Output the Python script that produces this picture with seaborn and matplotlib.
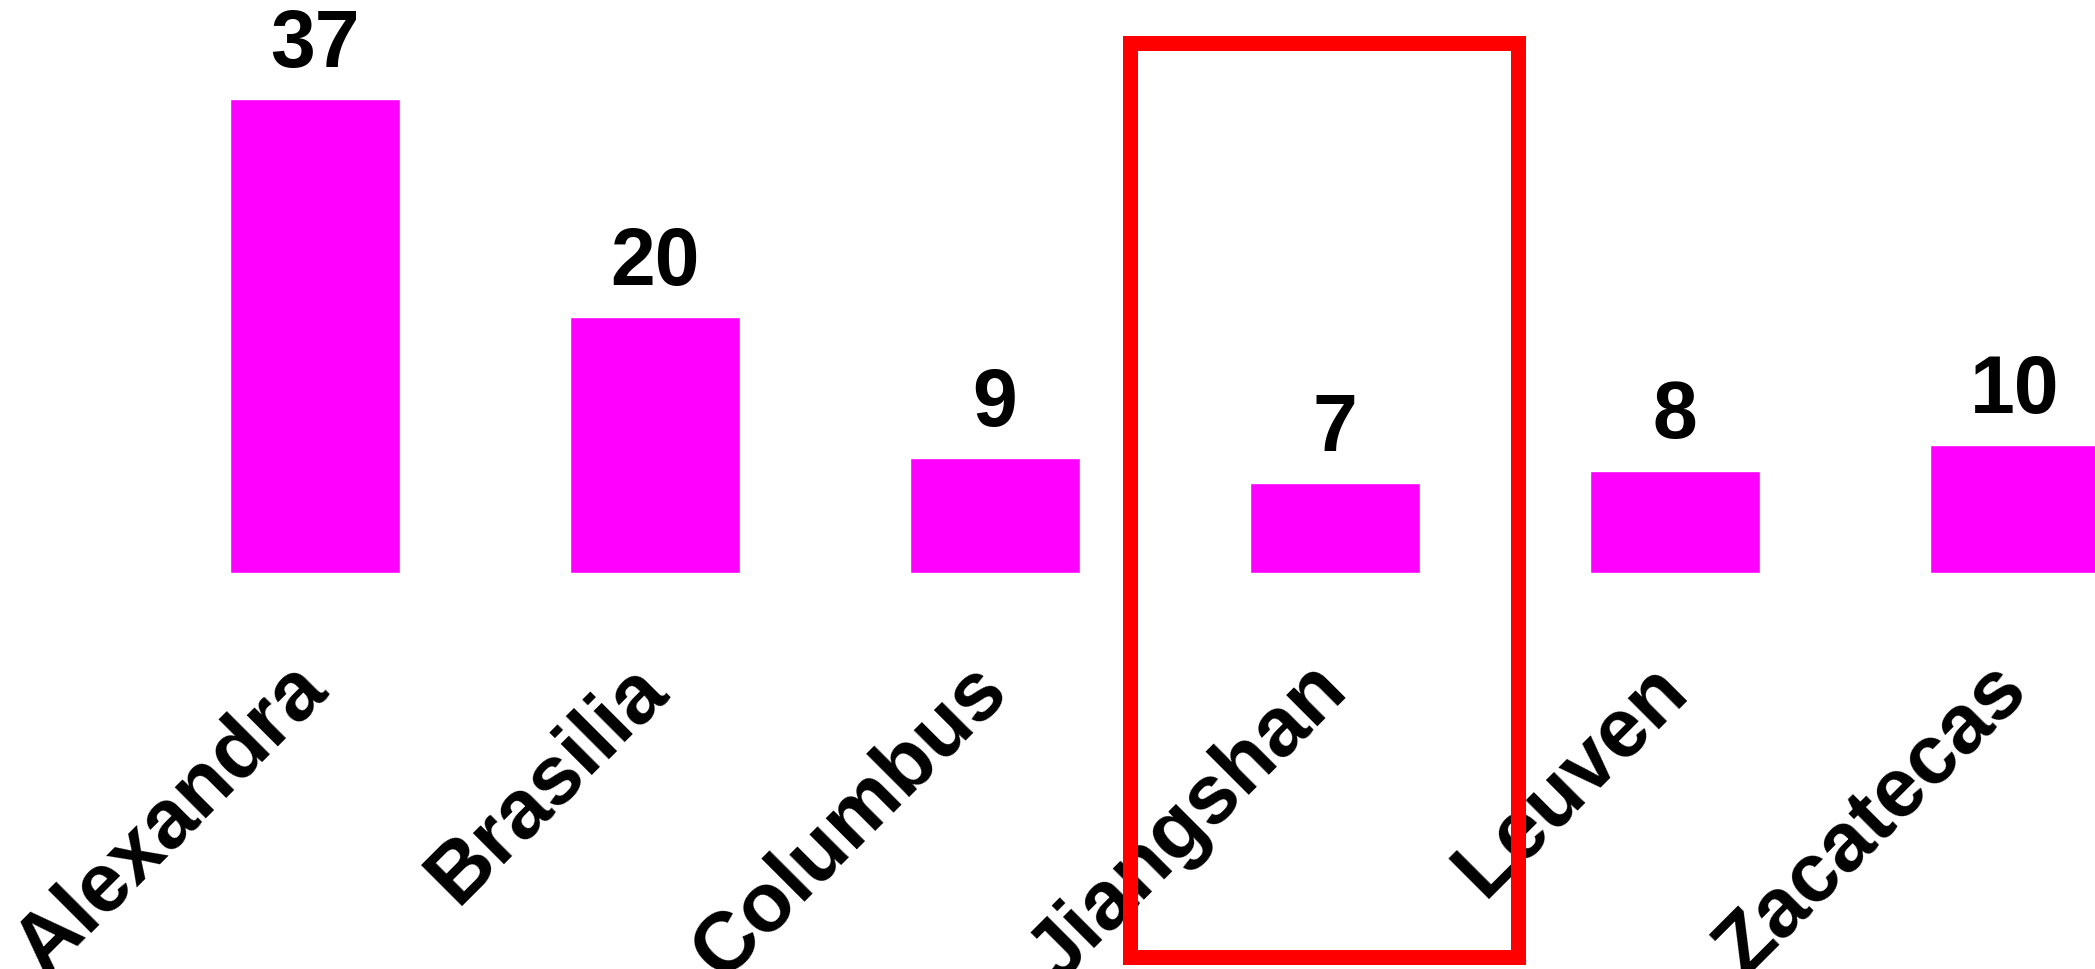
import matplotlib
matplotlib.use('Agg')
import matplotlib.pyplot as plt
import matplotlib.transforms as mtransforms
from matplotlib.patches import Rectangle
import pandas as pd
import seaborn as sns

# data
cities = ['Alexandra', 'Brasilia', 'Columbus', 'Jiangshan', 'Leuven', 'Zacatecas']
counts = [37, 20, 9, 7, 8, 10]
highlight = 'Jiangshan'

sns.set_theme(style='white')
plt.rcParams['font.family'] = ['Liberation Sans', 'DejaVu Sans']
plt.rcParams['font.weight'] = 'bold'

df = pd.DataFrame({'city': cities, 'count': counts})

fig = plt.figure(figsize=(20.95, 9.69), dpi=100)
ax = fig.add_axes([0, 0.4087, 1, 0.5913])
sns.barplot(data=df, x='city', y='count', color='#ff00ff', saturation=1,
            width=0.5, ax=ax)

# value labels above the bars
for bar, v in zip(ax.patches, counts):
    ax.annotate(str(v), (bar.get_x() + bar.get_width() / 2, bar.get_height()),
                xytext=(0, 11), textcoords='offset points', color='black',
                ha='center', va='bottom', fontsize=58, fontweight='bold')

ax.set_xticks(range(len(cities)))
ax.set_xticklabels(cities, rotation=45, ha='right', va='center',
                   rotation_mode='anchor', fontsize=60, fontweight='bold',
                   color='black')
ax.tick_params(axis='x', length=0, pad=75)
ax.set_yticks([])
ax.set_xlabel('')
ax.set_ylabel('')
sns.despine(ax=ax, left=True, bottom=True)

# red frame around the highlighted city
i = cities.index(highlight)
trans = mtransforms.blended_transform_factory(ax.transData, fig.transFigure)
rect = Rectangle((i - 0.603, 0.0124), 1.142, 0.9436, transform=trans,
                 fill=False, edgecolor='#ff0000', linewidth=10.8, clip_on=False)
fig.add_artist(rect)

ax.set_xlim(-0.925, 5.236)
ax.set_ylim(0, 44.77)

fig.savefig('out.png', dpi=100)
